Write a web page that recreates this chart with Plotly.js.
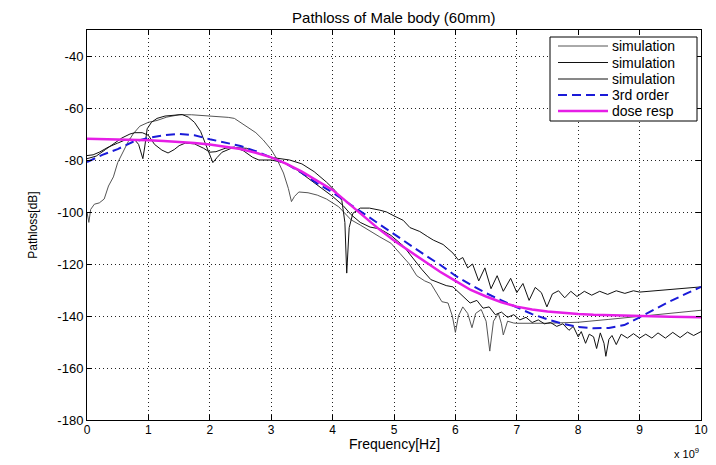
<!DOCTYPE html>
<html>
<head>
<meta charset="utf-8">
<script src="https://cdn.plot.ly/plotly-3.0.1.min.js"></script>
<style>html,body{margin:0;padding:0;background:#fff;}#chart{width:716px;height:465px;}</style>
</head>
<body>
<div id="chart"></div>
<script>
// Frequencies in units of 1e9 Hz (axis shows "x 10^9")
const sim1X = [0, 0.03, 0.06, 0.12, 0.2, 0.28, 0.35, 0.43, 0.5, 0.6, 0.67, 0.75, 0.86, 1.0, 1.14, 1.3, 1.5, 1.7, 1.9, 2.1, 2.3, 2.4, 2.6, 2.75, 2.87, 3.0, 3.09, 3.2, 3.28, 3.33, 3.38, 3.45, 3.6, 3.75, 3.9, 4.1, 4.3, 4.45, 4.77, 4.95, 5.1, 5.25, 5.37, 5.5, 5.6, 5.7, 5.78, 5.88, 5.95, 6.0, 6.05, 6.12, 6.2, 6.27, 6.33, 6.42, 6.5, 6.56, 6.62, 6.7, 6.75, 6.78, 6.85, 6.95, 7.0, 7.5, 8.0, 8.5, 9.0, 9.5, 10];
const sim1Y = [-100, -104, -99, -97, -96.5, -95, -90, -86.5, -81, -76, -73, -70, -67, -65.5, -64.8, -63.5, -62.6, -62.6, -62.9, -63.2, -63.6, -64, -67, -69.5, -72.3, -76, -79.5, -85, -91, -96, -94, -92.3, -92.6, -93.5, -95, -98, -103, -105, -109.6, -112, -116, -120, -124.5, -126.5, -127.5, -131.5, -134.5, -135, -140, -146.3, -140, -136.5, -139, -144.5, -139, -137.5, -142, -153.5, -142, -139, -143, -147.3, -142, -142.7, -142.8, -142.8, -142.4, -141.3, -140.2, -139, -137.8];

const sim2X = [0, 0.1, 0.2, 0.35, 0.5, 0.6, 0.7, 0.78, 0.84, 0.88, 0.91, 0.94, 0.98, 1.05, 1.14, 1.27, 1.4, 1.55, 1.65, 1.75, 1.85, 1.95, 2.05, 2.12, 2.2, 2.38, 2.6, 2.8, 3.0, 3.3, 3.5, 3.7, 3.9, 4.05, 4.15, 4.2, 4.23, 4.27, 4.33, 4.45, 4.6, 4.77, 4.88, 5.0, 5.15, 5.26, 5.42, 5.55, 5.64, 5.8, 5.96, 6.05, 6.12, 6.2, 6.28, 6.38, 6.48, 6.58, 6.68, 6.78, 6.9, 7.0, 7.1, 7.2, 7.3, 7.4, 7.49, 7.58, 7.68, 7.78, 7.88, 7.98, 8.1, 8.22, 8.35, 8.48, 8.62, 8.76, 8.9, 9.0, 9.25, 9.5, 9.75, 10];
const sim2Y = [-78.3, -78, -77, -75, -73.5, -72.5, -72, -72.3, -74, -77, -79.5, -75, -68, -65.5, -64, -63.1, -62.7, -62.5, -63.5, -65.5, -69, -75, -81, -79, -77, -75.2, -75.5, -77.5, -79, -80, -81.5, -84.5, -88.5, -92, -95.5, -104, -123.5, -106, -100.5, -98.5, -98.5, -99.3, -100, -101.5, -103.2, -106, -107.5, -109.5, -110.8, -112.5, -115.8, -118.5, -117.5, -121.5, -120, -126.5, -121.5, -129.5, -124.5, -130.5, -125.5, -131, -127.5, -134, -129, -131, -136.5, -131.5, -130.3, -133, -130.5, -132.5, -130.5, -132, -130.5, -131.7, -130.3, -131.3, -130.3, -130.8, -130.3, -129.8, -129.3, -128.8];

const sim3X = [0, 0.15, 0.3, 0.45, 0.57, 0.7, 0.78, 0.9, 1.0, 1.1, 1.22, 1.32, 1.42, 1.5, 1.6, 1.75, 1.9, 2.0, 2.1, 2.25, 2.4, 2.55, 2.7, 2.8, 3.0, 3.2, 3.4, 3.6, 3.8, 4.0, 4.17, 4.3, 4.45, 4.61, 4.77, 4.95, 5.15, 5.3, 5.45, 5.6, 5.75, 5.85, 5.96, 6.1, 6.24, 6.35, 6.45, 6.55, 6.65, 6.75, 6.85, 6.95, 7.05, 7.15, 7.25, 7.35, 7.45, 7.55, 7.65, 7.75, 7.85, 7.92, 8.0, 8.05, 8.12, 8.18, 8.25, 8.3, 8.36, 8.42, 8.45, 8.5, 8.55, 8.62, 8.7, 8.8, 8.9, 9.0, 9.1, 9.2, 9.3, 9.42, 9.54, 9.66, 9.78, 9.88, 10];
const sim3Y = [-79.5, -78.5, -76, -73.5, -71.5, -70, -69.5, -69.5, -70.5, -74, -76.2, -77.3, -76, -74.5, -73.5, -73.8, -75.5, -77, -76.8, -75.5, -75, -76.5, -79, -80, -80, -81, -83.5, -87, -90.5, -94, -97.5, -101, -104, -105.8, -106.5, -109, -113, -117.5, -122, -126, -127.5, -128.3, -128.8, -132, -135, -134, -137, -136.5, -139.5, -138.5, -140.5, -139.5, -141.5, -140.5, -142.5, -141.5, -143, -142.5, -144, -143, -145.5, -144, -148, -146, -150.5, -147, -148, -152.5, -146.5, -150.5, -155.5, -149, -147.5, -151, -147, -148.5, -146.8, -148.5, -147, -148.5, -146.5, -148.5, -146.3, -148.3, -146.2, -147.5, -146];

const fitX = [0, 0.25, 0.5, 0.75, 1.0, 1.25, 1.5, 1.75, 2.0, 2.25, 2.5, 2.75, 3.0, 3.25, 3.5, 3.75, 4.0, 4.25, 4.5, 4.75, 5.0, 5.25, 5.5, 5.75, 6.0, 6.25, 6.5, 6.75, 7.0, 7.25, 7.5, 7.75, 8.0, 8.25, 8.5, 8.75, 9.0, 9.25, 9.5, 9.75, 10];
const fit3Y = [-80.8, -78, -75.8, -73, -71.5, -70.5, -70, -70.5, -72, -73.2, -74.6, -76.6, -79, -81.5, -85, -89, -92.5, -96.5, -100.8, -104.5, -108.5, -112.5, -116.5, -120.3, -124.5, -128, -131.2, -134, -136.8, -139.3, -141.3, -143, -144.2, -144.7, -144.6, -143.5, -140.5, -137.3, -134.3, -131.5, -128.8];
const doseY = [-71.8, -71.9, -72, -72.2, -72.4, -72.7, -73, -73.5, -74, -74.8, -75.8, -77.2, -79, -81.5, -84.5, -88, -91.5, -96.5, -101.5, -106.5, -111, -115, -119, -123, -126.5, -130, -132.5, -134.7, -136.4, -137.5, -138.3, -138.8, -139.2, -139.5, -139.7, -139.9, -140, -140.2, -140.3, -140.4, -140.5];

const seriesNames = ['simulation', 'simulation', 'simulation', '3rd order', 'dose resp'];
const xTicks = [0, 1, 2, 3, 4, 5, 6, 7, 8, 9, 10];
const yTicks = [-180, -160, -140, -120, -100, -80, -60, -40];

const FONT = '"Liberation Sans", Arial, Helvetica, sans-serif';
const W = 716, H = 465, ML = 87, MR = 15, MT = 30, MB = 45;
const PW = W - ML - MR, PH = H - MT - MB;
const px2x = p => (p - ML) / PW;
const py2y = p => (H - MB - p) / PH;

const styles = [
  {color: '#555555', width: 1},
  {color: '#111111', width: 1},
  {color: '#111111', width: 1},
  {color: '#1a1ad8', width: 2, dash: '9px,5px'},
  {color: '#e61ee6', width: 2.5}
];
const xs = [sim1X, sim2X, sim3X, fitX, fitX];
const ys = [sim1Y, sim2Y, sim3Y, fit3Y, doseY];

const traces = xs.map((x, i) => ({
  x: x, y: ys[i], name: seriesNames[i], mode: 'lines', line: styles[i], showlegend: false
}));

// Box-style legend (MATLAB look) drawn in paper coordinates
const legBox = {x0: 550, x1: 697, y0: 37, y1: 121};
const legRows = [46, 62.5, 79, 95, 111];
const shapes = [{
  type: 'rect', xref: 'paper', yref: 'paper', layer: 'above',
  x0: px2x(legBox.x0), x1: px2x(legBox.x1), y0: py2y(legBox.y1), y1: py2y(legBox.y0),
  line: {color: '#000', width: 1}, fillcolor: '#fff'
}];
const annotations = [];
seriesNames.forEach((nm, i) => {
  shapes.push({type: 'line', xref: 'paper', yref: 'paper', layer: 'above',
    x0: px2x(558), x1: px2x(608), y0: py2y(legRows[i]), y1: py2y(legRows[i]), line: styles[i]});
  annotations.push({xref: 'paper', yref: 'paper', x: px2x(610), y: py2y(legRows[i]),
    xanchor: 'left', yanchor: 'middle', showarrow: false, text: nm,
    font: {family: FONT, size: 14, color: '#000'}});
});
// x-axis title and exponent label
annotations.push({xref: 'paper', yref: 'paper', x: 0.5, y: py2y(444), xanchor: 'center', yanchor: 'middle',
  showarrow: false, text: 'Frequency[Hz]', font: {family: FONT, size: 14, color: '#000'}});
annotations.push({xref: 'paper', yref: 'paper', x: 1.0, y: py2y(453), xanchor: 'right', yanchor: 'middle',
  showarrow: false, text: 'x 10<sup>9</sup>', font: {family: FONT, size: 11, color: '#000'}});

const axisCommon = {
  showline: true, linecolor: '#000', linewidth: 1, mirror: 'ticks',
  ticks: 'inside', ticklen: 5, tickcolor: '#000', tickwidth: 1,
  showgrid: true, gridcolor: '#222', gridwidth: 1, griddash: '1px,3px',
  zeroline: false, tickfont: {family: FONT, size: 13, color: '#000'}
};

const layout = {
  width: W, height: H,
  margin: {l: ML, r: MR, t: MT, b: MB},
  paper_bgcolor: '#fff', plot_bgcolor: '#fff',
  font: {family: FONT, color: '#000'},
  showlegend: false,
  title: {text: 'Pathloss of Male body (60mm)', font: {family: FONT, size: 15, color: '#000'}, x: 0.55, xanchor: 'center', y: 0.962, yanchor: 'middle'},
  xaxis: Object.assign({}, axisCommon, {
    range: [0, 10], tickvals: xTicks, ticktext: xTicks.map(String),
    tickfont: {family: FONT, size: 12, color: '#000'}, ticklabelstandoff: -1
  }),
  yaxis: Object.assign({}, axisCommon, {
    range: [-180, -30], tickvals: yTicks, ticktext: yTicks.map(String),
    title: {text: 'Pathloss[dB]', font: {family: FONT, size: 12, color: '#000'}, standoff: 17}
  }),
  shapes: shapes,
  annotations: annotations
};

Plotly.newPlot('chart', traces, layout, {displayModeBar: false, staticPlot: true});
</script>
</body>
</html>
